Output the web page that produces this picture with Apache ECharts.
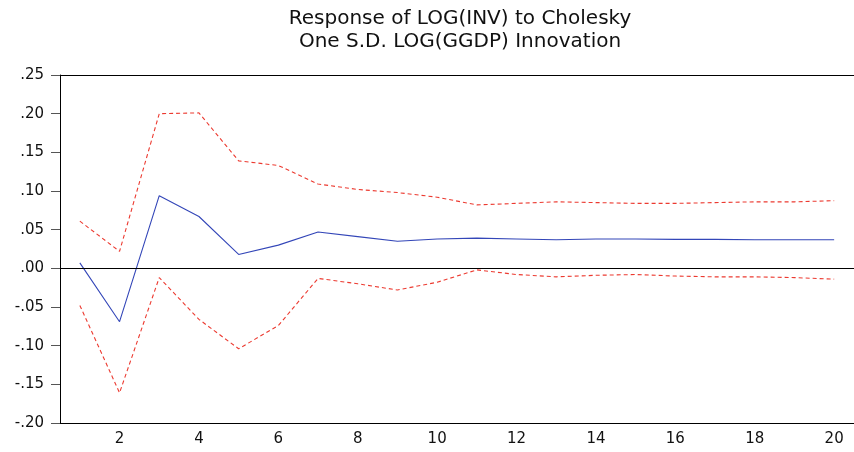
<!DOCTYPE html>
<html>
<head>
<meta charset="utf-8">
<script src="https://cdn.jsdelivr.net/npm/echarts@6/dist/echarts.min.js"></script>
<style>
  html, body { margin: 0; padding: 0; background: #fff; }
  #chart { width: 854px; height: 452px; }
</style>
</head>
<body>
<div id="chart"></div>
<script>
// periods 1..20
const periods = ['1','2','3','4','5','6','7','8','9','10','11','12','13','14','15','16','17','18','19','20'];
// impulse response
const response = [0.007, -0.069, 0.094, 0.067, 0.018, 0.030, 0.047, 0.041, 0.035, 0.038,
                  0.039, 0.038, 0.037, 0.038, 0.038, 0.0375, 0.0375, 0.037, 0.037, 0.037];
// +/- 2 S.E. bands
const upper = [0.061, 0.022, 0.200, 0.201, 0.139, 0.133, 0.109, 0.102, 0.098, 0.092,
               0.082, 0.084, 0.086, 0.085, 0.084, 0.084, 0.085, 0.086, 0.086, 0.0875];
const lower = [-0.048, -0.161, -0.012, -0.066, -0.104, -0.074, -0.013, -0.020, -0.028, -0.018,
               -0.002, -0.008, -0.011, -0.009, -0.008, -0.010, -0.011, -0.011, -0.012, -0.014];

const font = '"DejaVu Sans", Verdana, sans-serif';
const chart = echarts.init(document.getElementById('chart'));

const option = {
  animation: false,
  backgroundColor: '#fff',
  title: {
    text: 'Response of LOG(INV) to Cholesky\nOne S.D. LOG(GGDP) Innovation',
    left: 455,
    top: 2,
    textAlign: 'center',
    textStyle: { fontFamily: font, fontSize: 20, fontWeight: 'normal', color: '#111', lineHeight: 23 }
  },
  grid: {
    left: 60, top: 75, width: 796, bottom: 29,
    show: false
  },
  xAxis: [
    {
      type: 'category',
      data: periods,
      boundaryGap: true,
      axisLine: { onZero: false, lineStyle: { color: '#000', width: 1 } },
      axisTick: { interval: 0, length: 6, lineStyle: { color: '#000' } },
      axisLabel: {
        interval: 0, margin: 9, color: '#111', fontFamily: font, fontSize: 15,
        formatter: v => (Number(v) % 2 === 0 ? v : '')
      },
      splitLine: { show: false }
    },
    {
      // top frame line only
      type: 'category',
      data: periods,
      position: 'top',
      axisLine: { onZero: false, lineStyle: { color: '#000', width: 1 } },
      axisTick: { show: false },
      axisLabel: { show: false }
    }
  ],
  yAxis: {
    type: 'value',
    min: -0.2, max: 0.25, interval: 0.05,
    axisLine: { show: true, onZero: false, lineStyle: { color: '#000', width: 1 } },
    axisTick: { show: true, length: 9, lineStyle: { color: '#555' } },
    axisLabel: {
      margin: 16, color: '#111', fontFamily: font, fontSize: 15,
      formatter: v => v.toFixed(2).replace('0.', '.')
    },
    splitLine: { show: false }
  },
  series: [
    {
      type: 'line', data: upper, symbol: 'none',
      lineStyle: { color: '#ec3a30', width: 1.1, type: [4, 3] }
    },
    {
      type: 'line', data: lower, symbol: 'none',
      lineStyle: { color: '#ec3a30', width: 1.1, type: [4, 3] }
    },
    {
      type: 'line', data: response, symbol: 'none',
      lineStyle: { color: '#3346b8', width: 1.1 },
      markLine: {
        silent: true, symbol: 'none', label: { show: false },
        lineStyle: { color: '#000', width: 1, type: 'solid' },
        data: [{ yAxis: 0 }]
      }
    }
  ]
};
chart.setOption(option);
</script>
</body>
</html>
